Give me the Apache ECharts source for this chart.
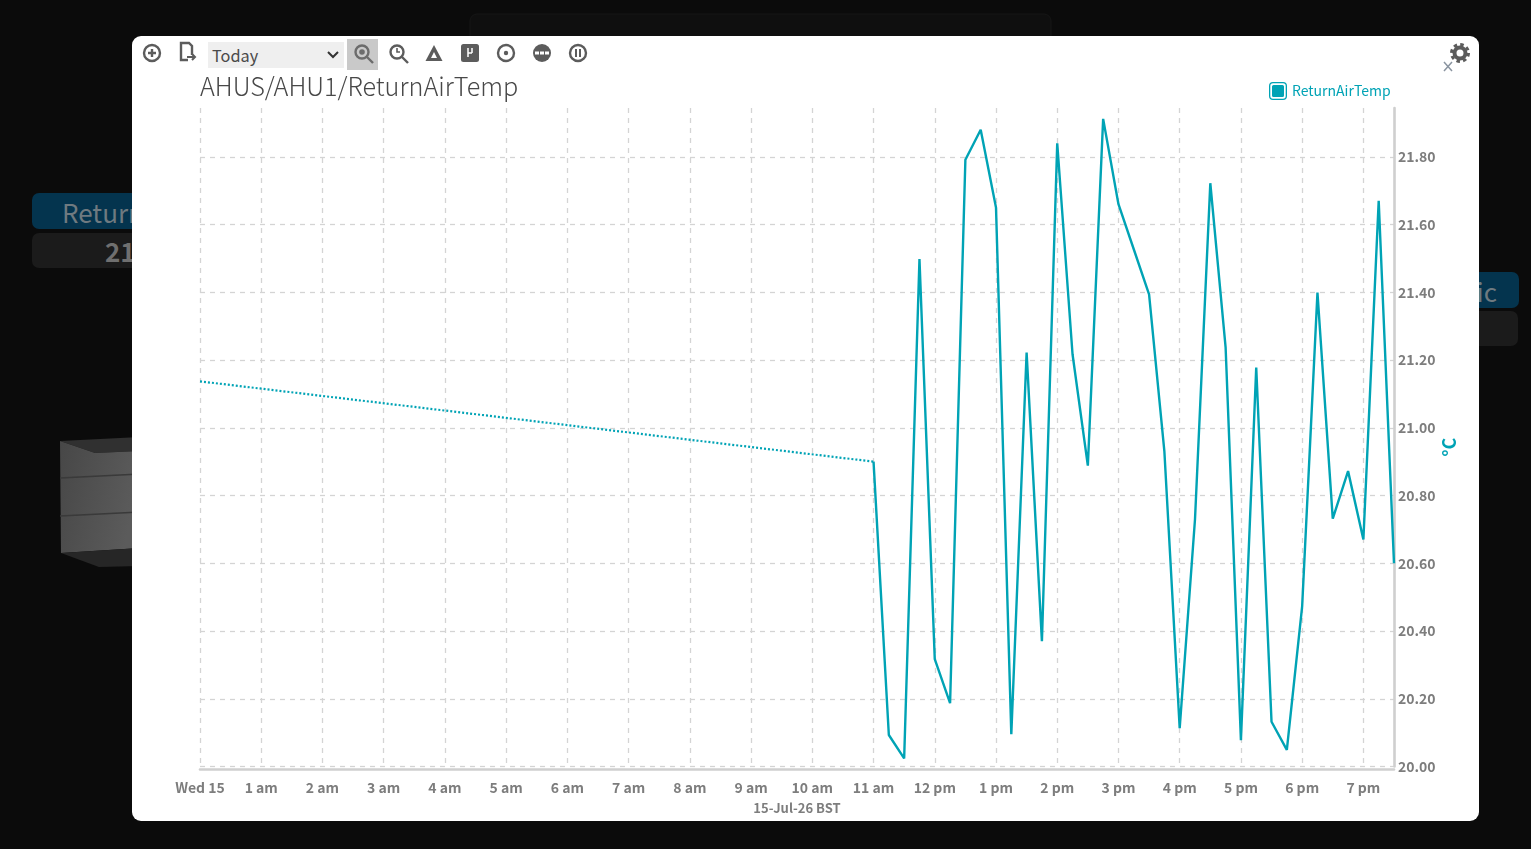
<!DOCTYPE html>
<html>
<head>
<meta charset="utf-8">
<style>
html,body{margin:0;padding:0;width:1531px;height:849px;overflow:hidden;background:#0b0b0b;font-family:"Noto Sans CJK SC","Noto Sans",sans-serif}
.abs{position:absolute}
#modal{left:132px;top:36px;width:1347px;height:785px;background:#fff;border-radius:9px}
#main{left:0;top:0;width:1531px;height:849px}
.pill{border-radius:7px;overflow:hidden;text-align:center;color:#6f6f6f}
#sel{left:208px;top:42px;width:136px;height:26px;background:#efefef;color:#4a4a4a;font-size:16.3px;line-height:27px;text-indent:4px}
#hl{left:347px;top:39px;width:31px;height:31px;background:#c9c9c9}
</style>
</head>
<body>
<svg class="abs" style="left:0;top:0" width="1531" height="849">
  <defs><linearGradient id="g" x1="0" x2="1" y1="0" y2="0.3"><stop offset="0" stop-color="#474747"/><stop offset="1" stop-color="#5b5b5b"/></linearGradient></defs>
  <rect x="470" y="14" width="581" height="30" rx="7" fill="#0f0f0f" stroke="#161616"/>
  <polygon points="60,441 95,453 140,451 140,437" fill="#303030"/>
  <polygon points="60,441 95,453 140,451 140,548 61,553" fill="url(#g)"/>
  <polygon points="61,553 99,567 140,566 140,548" fill="#262626"/>
  <line x1="60" y1="478" x2="140" y2="474" stroke="#3a3a3a" stroke-width="1.5"/>
  <line x1="60" y1="516" x2="140" y2="512" stroke="#3a3a3a" stroke-width="1.5"/>
</svg>
<div class="abs pill" style="left:32px;top:193px;width:125px;height:36px;background:#04344e;font-size:26px;line-height:38px;text-align:left;padding-left:30px;box-sizing:border-box;color:#6f7a80">Return</div>
<div class="abs pill" style="left:32px;top:233px;width:125px;height:35px;background:#1b1b1b;font-size:26px;line-height:36px;font-weight:bold;text-align:left;padding-left:73px;box-sizing:border-box">21</div>
<div class="abs pill" style="left:1440px;top:272px;width:79px;height:36px;background:#04344e;font-size:26px;line-height:37px;text-align:right;padding-right:22px;box-sizing:border-box;color:#6f7a80">ic</div>
<div class="abs pill" style="left:1440px;top:311px;width:78px;height:35px;background:#1b1b1b"></div>
<div id="modal" class="abs"></div>
<div id="hl" class="abs"></div>
<div id="sel" class="abs">Today</div>
<svg class="abs" style="left:0;top:0" width="1531" height="849" fill="none" stroke="#5c5c5c" stroke-width="2.4">
  <path d="M328 52l5 5 5-5" stroke="#333" stroke-width="2"/>
  <circle cx="152" cy="53" r="8"/><path d="M148 53h8M152 49v8"/>
  <path d="M192 55v-9l-3-3h-8v17h7" /><path d="M187 57h7M192 54l3 3-3 3" stroke-width="2"/>
  <circle cx="362" cy="52" r="6.5" stroke="#6c6c6c"/><path d="M367 57l6 6" stroke="#6c6c6c"/><circle cx="362" cy="52" r="2.8" fill="#6c6c6c" stroke="none"/>
  <circle cx="397" cy="52" r="6.5"/><path d="M402 57l6 6"/><path d="M397 48v4h3" stroke-width="1.6"/>
  <path d="M434 45l8.500 16h-17z M434 52l-3 6h6z" fill="#5c5c5c" fill-rule="evenodd" stroke="none"/>
  <rect x="461" y="44" width="18" height="18" rx="2.500" fill="#5c5c5c" stroke="none"/>
  <path d="M468 48v9M472 48v5M468 53h4" stroke="#fff" stroke-width="1.500"/>
  <circle cx="506" cy="53" r="8"/><circle cx="506" cy="53" r="2.200" fill="#5c5c5c" stroke="none"/>
  <circle cx="542" cy="53" r="9" fill="#5c5c5c" stroke="none"/><path d="M535 53h14" stroke="#fff" stroke-width="3" stroke-dasharray="4 1"/>
  <circle cx="578" cy="53" r="8"/><path d="M576 49v8M580 49v8" stroke-width="2"/>
  <circle cx="1460" cy="53" r="5.500" stroke-width="4" stroke="#5c5c5c"/><circle cx="1460" cy="53" r="8.500" stroke-width="3" stroke-dasharray="3.500 3.170" stroke="#5c5c5c"/>
  <path d="M1444 62l8 9M1452 62l-8 9" stroke="#8a94a0" stroke-width="1.500"/>
</svg>
<div id="main" class="abs"></div>
<script src="https://cdn.jsdelivr.net/npm/echarts@6/dist/echarts.min.js"></script>
<script>
const seriesName = 'ReturnAirTemp';
const chartTitle = 'AHUS/AHU1/ReturnAirTemp';
const unitLabel = '°C';
const dateLabel = '15-Jul-26 BST';
const hourLabels = ['Wed 15','1 am','2 am','3 am','4 am','5 am','6 am','7 am','8 am','9 am','10 am','11 am','12 pm','1 pm','2 pm','3 pm','4 pm','5 pm','6 pm','7 pm'];
const gapHours = [0, 11];
const gapValues = [21.137, 20.90];
const sampleHours = [11,11.25,11.5,11.75,12,12.25,12.5,12.75,13,13.25,13.5,13.75,14,14.25,14.5,14.75,15,15.25,15.5,15.75,16,16.25,16.5,16.75,17,17.25,17.5,17.75,18,18.25,18.5,18.75,19,19.25,19.5];
const sampleValues = [20.90,20.093,20.024,21.498,20.317,20.187,21.791,21.88,21.65,20.095,21.222,20.37,21.84,21.217,20.888,21.912,21.66,21.527,21.394,20.93,20.113,20.73,21.722,21.237,20.078,21.178,20.132,20.049,20.473,21.399,20.732,20.872,20.67,21.67,20.60];
const yMin = 20, yMax = 21.944, yStep = 0.2, xMax = 19.5;

const teal = '#00a3b5', grey = '#7d7d7d', font = '"Noto Sans CJK SC","Noto Sans",sans-serif';
const pair = (a, b) => a.map((v, i) => [v, b[i]]);
const chart = echarts.init(document.getElementById('main'), null, {renderer: 'canvas'});
const split = {show: true, showMaxLine: false, lineStyle: {color: '#d4d4d4', type: [5, 5], width: 1.3}};
chart.setOption({
  backgroundColor: 'transparent',
  animation: false,
  title: {text: chartTitle, left: 195, top: 69, textStyle: {color: '#484848', fontFamily: font, fontSize: 25.2, fontWeight: 300}},
  legend: {
    data: [seriesName], left: 1264, top: 77, itemWidth: 18, itemHeight: 18, itemGap: 5,
    icon: 'path://M4 0H14A4 4 0 0 1 18 4V14A4 4 0 0 1 14 18H4A4 4 0 0 1 0 14V4A4 4 0 0 1 4 0ZM4 1.3A2.7 2.7 0 0 0 1.3 4V14A2.7 2.7 0 0 0 4 16.7H14A2.7 2.7 0 0 0 16.7 14V4A2.7 2.7 0 0 0 14 1.3ZM4.5 3H13.5A1.5 1.5 0 0 1 15 4.5V13.5A1.5 1.5 0 0 1 13.5 15H4.5A1.5 1.5 0 0 1 3 13.5V4.5A1.5 1.5 0 0 1 4.5 3Z',
    lineStyle: {opacity: 0, width: 0},
    itemStyle: {color: teal},
    textStyle: {color: teal, fontFamily: font, fontSize: 14, padding: [0, 0, 0, 0]}
  },
  grid: {left: 200, right: 137, top: 108, bottom: 82.5, containLabel: false},
  xAxis: {
    type: 'value', min: 0, max: xMax, interval: 1, offset: 3,
    name: dateLabel, nameLocation: 'middle', nameGap: 32,
    nameTextStyle: {color: grey, fontFamily: font, fontSize: 13, fontWeight: 600},
    axisLine: {show: true, onZero: false, lineStyle: {color: '#cfcfcf', width: 2.6}},
    axisTick: {show: false},
    axisLabel: {color: grey, fontFamily: font, fontSize: 14, fontWeight: 600, margin: 11, showMaxLabel: false, hideOverlap: false,
      formatter: v => hourLabels[v] ?? ''},
    splitLine: split
  },
  yAxis: {
    type: 'value', position: 'right', min: yMin, max: yMax, interval: yStep,
    name: unitLabel, nameLocation: 'middle', nameGap: 46, nameRotate: 90, nameMoveOverlap: false,
    nameTextStyle: {color: teal, fontFamily: font, fontSize: 18, fontWeight: 600, padding: [0, 0, 0, -20]},
    axisLine: {show: true, onZero: false, lineStyle: {color: '#cfcfcf', width: 2.6}},
    axisTick: {show: false},
    axisLabel: {color: grey, fontFamily: font, fontSize: 14, fontWeight: 600, margin: 4, showMaxLabel: false,
      formatter: v => v.toFixed(2)},
    splitLine: split
  },
  series: [
    {name: seriesName, type: 'line', data: pair(gapHours, gapValues), showSymbol: false, symbol: 'none', clip: false,
     lineStyle: {color: teal, width: 2.2, type: [2, 2]}, itemStyle: {color: teal}},
    {name: seriesName, type: 'line', data: pair(sampleHours, sampleValues), showSymbol: false, symbol: 'none', clip: false,
     lineStyle: {color: teal, width: 2.4}, itemStyle: {color: teal}}
  ]
});
</script>
</body>
</html>
